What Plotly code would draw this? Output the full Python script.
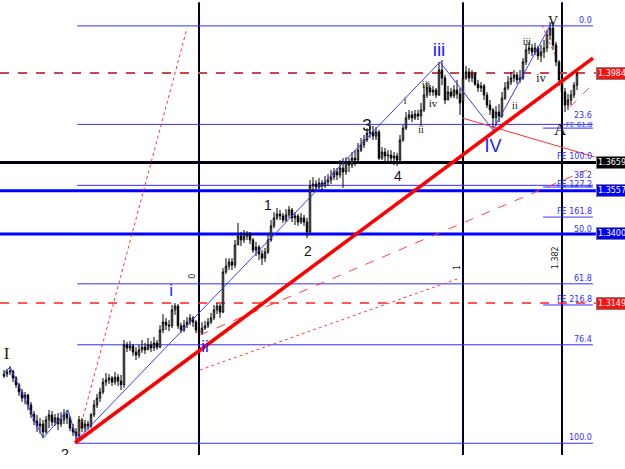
import plotly.graph_objects as go

# ---------------- candle data (bar index, OHLC prices) ----------------
opens = [
    1.2884, 1.2891, 1.2899, 1.2902, 1.2877, 1.2852, 1.2826, 1.2804, 1.2815, 1.2779,
    1.2746, 1.2721, 1.2703, 1.2710, 1.2681, 1.2725, 1.2743, 1.2717, 1.2732, 1.2710,
    1.2725, 1.2746, 1.2732, 1.2695, 1.2681, 1.2667, 1.2725, 1.2695, 1.2710, 1.2703,
    1.2743, 1.2779, 1.2804, 1.2826, 1.2862, 1.2870, 1.2877, 1.2862, 1.2880, 1.2866,
    1.2852, 1.2997, 1.2986, 1.2993, 1.2971, 1.2960, 1.2979, 1.2989, 1.2979, 1.2997,
    1.2986, 1.3004, 1.2989, 1.3051, 1.3080, 1.3069, 1.3066, 1.3124, 1.3138, 1.3066,
    1.3051, 1.3069, 1.3080, 1.3095, 1.3080, 1.3051, 1.3040, 1.3058, 1.3066, 1.3080,
    1.3095, 1.3124, 1.3138, 1.3116, 1.3262, 1.3283, 1.3298, 1.3287, 1.3360, 1.3392,
    1.3378, 1.3392, 1.3400, 1.3378, 1.3341, 1.3352, 1.3327, 1.3312, 1.3334, 1.3378,
    1.3429, 1.3458, 1.3472, 1.3465, 1.3450, 1.3469, 1.3487, 1.3458, 1.3465, 1.3443,
    1.3458, 1.3443, 1.3407, 1.3574, 1.3581, 1.3570, 1.3585, 1.3574, 1.3588, 1.3595,
    1.3606, 1.3625, 1.3614, 1.3639, 1.3625, 1.3661, 1.3650, 1.3675, 1.3668, 1.3704,
    1.3723, 1.3741, 1.3766, 1.3770, 1.3755, 1.3770, 1.3675, 1.3697, 1.3683, 1.3686,
    1.3675, 1.3683, 1.3668, 1.3741, 1.3784, 1.3821, 1.3832, 1.3821, 1.3835, 1.3828,
    1.3850, 1.3904, 1.3930, 1.3915, 1.3922, 1.3904, 1.3995, 1.3966, 1.3886, 1.3915,
    1.3901, 1.3922, 1.3908, 1.3882, 1.3966, 1.3988, 1.3966, 1.3980, 1.3944, 1.3930,
    1.3937, 1.3904, 1.3868, 1.3850, 1.3821, 1.3842, 1.3828, 1.3893, 1.3930, 1.3951,
    1.3966, 1.3977, 1.3959, 1.3966, 1.4024, 1.4068, 1.4075, 1.4060, 1.4075, 1.4046,
    1.4060, 1.4075, 1.4122, 1.4147, 1.4086, 1.4024, 1.3959, 1.3915, 1.3868, 1.3886,
    1.3904, 1.3940,
]
highs = [
    1.2906, 1.2910, 1.2920, 1.2906, 1.2884, 1.2859, 1.2837, 1.2826, 1.2819, 1.2790,
    1.2757, 1.2743, 1.2732, 1.2725, 1.2739, 1.2761, 1.2757, 1.2746, 1.2750, 1.2753,
    1.2764, 1.2761, 1.2739, 1.2710, 1.2695, 1.2739, 1.2732, 1.2725, 1.2721, 1.2750,
    1.2797, 1.2819, 1.2841, 1.2877, 1.2895, 1.2891, 1.2884, 1.2899, 1.2891, 1.2888,
    1.3015, 1.3008, 1.3011, 1.3000, 1.2989, 1.2997, 1.3015, 1.3004, 1.3022, 1.3011,
    1.3026, 1.3015, 1.3069, 1.3109, 1.3095, 1.3087, 1.3142, 1.3149, 1.3145, 1.3077,
    1.3087, 1.3098, 1.3109, 1.3102, 1.3087, 1.3069, 1.3080, 1.3084, 1.3095, 1.3113,
    1.3142, 1.3149, 1.3145, 1.3276, 1.3312, 1.3312, 1.3312, 1.3378, 1.3440, 1.3407,
    1.3414, 1.3410, 1.3407, 1.3385, 1.3371, 1.3360, 1.3341, 1.3349, 1.3396, 1.3450,
    1.3479, 1.3494, 1.3487, 1.3476, 1.3490, 1.3501, 1.3494, 1.3479, 1.3472, 1.3476,
    1.3469, 1.3458, 1.3595, 1.3606, 1.3595, 1.3603, 1.3595, 1.3610, 1.3617, 1.3632,
    1.3639, 1.3639, 1.3668, 1.3675, 1.3679, 1.3675, 1.3697, 1.3704, 1.3730, 1.3748,
    1.3759, 1.3784, 1.3795, 1.3792, 1.3788, 1.3777, 1.3715, 1.3712, 1.3704, 1.3704,
    1.3697, 1.3694, 1.3759, 1.3795, 1.3842, 1.3850, 1.3846, 1.3850, 1.3850, 1.3875,
    1.3940, 1.3951, 1.3940, 1.3937, 1.3930, 1.4024, 1.4031, 1.3977, 1.3937, 1.3930,
    1.3940, 1.3959, 1.3930, 1.3995, 1.4009, 1.4002, 1.3995, 1.3988, 1.3959, 1.3951,
    1.3944, 1.3915, 1.3886, 1.3857, 1.3864, 1.3871, 1.3915, 1.3951, 1.3973, 1.3988,
    1.3995, 1.3988, 1.3995, 1.4038, 1.4089, 1.4097, 1.4089, 1.4093, 1.4082, 1.4086,
    1.4104, 1.4140, 1.4169, 1.4169, 1.4097, 1.4031, 1.3966, 1.3930, 1.3908, 1.3922,
    1.3951, 1.3988,
]
lows = [
    1.2877, 1.2880, 1.2888, 1.2862, 1.2841, 1.2812, 1.2790, 1.2782, 1.2761, 1.2732,
    1.2706, 1.2681, 1.2675, 1.2659, 1.2675, 1.2695, 1.2703, 1.2703, 1.2688, 1.2699,
    1.2710, 1.2710, 1.2684, 1.2667, 1.2648, 1.2659, 1.2681, 1.2681, 1.2688, 1.2695,
    1.2735, 1.2768, 1.2790, 1.2819, 1.2848, 1.2855, 1.2848, 1.2852, 1.2848, 1.2833,
    1.2841, 1.2971, 1.2975, 1.2957, 1.2942, 1.2949, 1.2968, 1.2964, 1.2979, 1.2971,
    1.2975, 1.2979, 1.2986, 1.3040, 1.3051, 1.3047, 1.3058, 1.3106, 1.3055, 1.3040,
    1.3044, 1.3058, 1.3069, 1.3062, 1.3040, 1.3026, 1.3033, 1.3051, 1.3058, 1.3073,
    1.3087, 1.3109, 1.3095, 1.3113, 1.3254, 1.3269, 1.3269, 1.3276, 1.3360, 1.3356,
    1.3367, 1.3378, 1.3363, 1.3331, 1.3320, 1.3305, 1.3287, 1.3298, 1.3327, 1.3371,
    1.3421, 1.3450, 1.3450, 1.3440, 1.3443, 1.3458, 1.3443, 1.3432, 1.3429, 1.3436,
    1.3429, 1.3385, 1.3400, 1.3552, 1.3559, 1.3563, 1.3559, 1.3567, 1.3574, 1.3581,
    1.3595, 1.3595, 1.3603, 1.3567, 1.3614, 1.3625, 1.3639, 1.3646, 1.3661, 1.3697,
    1.3712, 1.3734, 1.3748, 1.3741, 1.3741, 1.3668, 1.3668, 1.3661, 1.3661, 1.3657,
    1.3650, 1.3646, 1.3661, 1.3734, 1.3777, 1.3813, 1.3806, 1.3813, 1.3813, 1.3792,
    1.3842, 1.3893, 1.3901, 1.3901, 1.3893, 1.3901, 1.3940, 1.3871, 1.3886, 1.3893,
    1.3893, 1.3890, 1.3832, 1.3875, 1.3959, 1.3951, 1.3951, 1.3937, 1.3915, 1.3915,
    1.3886, 1.3857, 1.3832, 1.3784, 1.3792, 1.3806, 1.3821, 1.3886, 1.3922, 1.3940,
    1.3951, 1.3944, 1.3948, 1.3959, 1.4013, 1.4053, 1.4046, 1.4049, 1.4031, 1.4024,
    1.4038, 1.4060, 1.4104, 1.4068, 1.4009, 1.3937, 1.3901, 1.3842, 1.3850, 1.3868,
    1.3893, 1.3922,
]
closes = [
    1.2891, 1.2899, 1.2902, 1.2877, 1.2852, 1.2826, 1.2804, 1.2815, 1.2779, 1.2746,
    1.2721, 1.2703, 1.2710, 1.2681, 1.2725, 1.2743, 1.2717, 1.2732, 1.2710, 1.2725,
    1.2746, 1.2732, 1.2695, 1.2681, 1.2667, 1.2725, 1.2695, 1.2710, 1.2703, 1.2743,
    1.2779, 1.2804, 1.2826, 1.2862, 1.2870, 1.2877, 1.2862, 1.2880, 1.2866, 1.2852,
    1.2997, 1.2986, 1.2993, 1.2971, 1.2960, 1.2979, 1.2989, 1.2979, 1.2997, 1.2986,
    1.3004, 1.2989, 1.3051, 1.3080, 1.3069, 1.3066, 1.3124, 1.3138, 1.3066, 1.3051,
    1.3069, 1.3080, 1.3095, 1.3080, 1.3051, 1.3040, 1.3058, 1.3066, 1.3080, 1.3095,
    1.3124, 1.3138, 1.3116, 1.3262, 1.3283, 1.3298, 1.3287, 1.3360, 1.3392, 1.3378,
    1.3392, 1.3400, 1.3378, 1.3341, 1.3352, 1.3327, 1.3312, 1.3334, 1.3378, 1.3429,
    1.3458, 1.3472, 1.3465, 1.3450, 1.3469, 1.3487, 1.3458, 1.3465, 1.3443, 1.3458,
    1.3443, 1.3407, 1.3574, 1.3581, 1.3570, 1.3585, 1.3574, 1.3588, 1.3595, 1.3606,
    1.3625, 1.3614, 1.3639, 1.3625, 1.3661, 1.3650, 1.3675, 1.3668, 1.3704, 1.3723,
    1.3741, 1.3766, 1.3770, 1.3755, 1.3770, 1.3675, 1.3697, 1.3683, 1.3686, 1.3675,
    1.3683, 1.3668, 1.3741, 1.3784, 1.3821, 1.3832, 1.3821, 1.3835, 1.3828, 1.3850,
    1.3904, 1.3930, 1.3915, 1.3922, 1.3904, 1.3995, 1.3966, 1.3886, 1.3915, 1.3901,
    1.3922, 1.3908, 1.3875, 1.3966, 1.3988, 1.3966, 1.3980, 1.3944, 1.3930, 1.3937,
    1.3904, 1.3868, 1.3850, 1.3821, 1.3842, 1.3828, 1.3893, 1.3930, 1.3951, 1.3966,
    1.3977, 1.3959, 1.3966, 1.4024, 1.4068, 1.4075, 1.4060, 1.4075, 1.4046, 1.4060,
    1.4075, 1.4122, 1.4147, 1.4086, 1.4024, 1.3959, 1.3915, 1.3868, 1.3886, 1.3904,
    1.3940, 1.3980,
]
bars = list(range(len(closes)))

# ---------------- horizontal price lines with right-side tags ----------------
tag_prices = [1.3984, 1.3659, 1.3557, 1.3400, 1.3149]
tag_texts = ["1.3984", "1.3659", "1.3557", "1.3400", "1.3149"]
tag_colors = ["#ff1010", "#000000", "#0000ff", "#0000ff", "#ff1010"]
line_colors = ["#c84848", "#000010", "#0000ff", "#0000ff", "#ff2020"]
line_widths = [2, 3, 3, 3, 1.5]
line_dashes = ["dash", "solid", "solid", "solid", "dash"]

# ---------------- Fibonacci retracement ----------------
fib_high = 1.4155
fib_low = 1.2640
fib_ratios = [0.0, 23.6, 38.2, 50.0, 61.8, 76.4, 100.0]
fib_label_shift = [0, 3, 4, 0, 0, 0, 0]
fib_bar_start = 24.4
fib_bar_end = 196.3

# ---------------- Fibonacci expansion short lines ----------------
fe_texts = ["FE 61.8", "FE 100.0", "FE 127.2", "FE 161.8", "FE 216.8"]
fe_prices = [1.3784, 1.3661, 1.3570, 1.3461, 1.3142]
fe_label_shift = [-2, 0, -3, 0, 0]
fe_label_size = [7, 8, 8, 8, 8]
fe_bar_start = 179.7
fe_bar_end = 196.3

# ---------------- vertical time lines ----------------
vline_bars = [65, 153, 186]

# ---------------- trend / channel lines ----------------
trend_main_x = [23.67, 196.33]
trend_main_y = [1.2641, 1.4038]
fan_steep_x = [24.33, 61.0]
fan_steep_y = [1.2652, 1.4147]
fan_dash_x = [65.33, 194.33]
fan_dash_y = [1.3033, 1.3632]
fan_dot_x = [65.33, 152.0]
fan_dot_y = [1.2906, 1.3240]
iv_line_x = [152.67, 197.0]
iv_line_y = [1.3821, 1.3679]
v_dot_x = [179.3, 183.67]
v_dot_y = [1.4158, 1.4049]
a_dash_x = [188.67, 196.0]
a_dash_y = [1.3861, 1.3940]

# blue wave zigzag
wave_x = [0, 2, 13, 21.33, 24.33, 145.33, 163, 182.67]
wave_y = [1.2895, 1.2917, 1.2659, 1.2761, 1.2652, 1.4024, 1.3777, 1.4169]

# ---------------- wave labels ----------------
lab_text = ["I", "2", "i", "ii", "1", "2", "3", "4", "i", "iii", "iv", "ii",
            "iii", "IV", "ii", "iii", "iv", "V", "A"]
lab_x = [0.9, 20.3, 55.7, 67.0, 88.0, 101.3, 121.0, 131.3, 133.7, 140.7, 143.0, 139.0,
         145.0, 163.0, 170.3, 174.3, 179.0, 183.0, 185.4]
lab_y = [1.2960, 1.2596, 1.3189, 1.2986, 1.3498, 1.3334, 1.3788, 1.3603, 1.3879, 1.3937,
         1.3871, 1.3777, 1.4062, 1.3715, 1.3861, 1.4093, 1.3962, 1.4169, 1.3774]
lab_color = ["#222200", "#111111", "#1a1aff", "#1a1aff", "#111111", "#111111", "#111111",
             "#111111", "#111111", "#111111", "#111111", "#111111", "#1a1aff", "#1a1aff",
             "#111111", "#111111", "#111111", "#111111", "#111111"]
lab_size = [17, 15, 17, 17, 14, 14, 17, 14, 10, 10, 11, 10, 19, 18, 10, 10, 12, 14, 17]
lab_font = ["Liberation Serif", "Liberation Sans", "Liberation Sans", "Liberation Sans",
            "Liberation Sans", "Liberation Sans", "Liberation Sans", "Liberation Sans",
            "Liberation Serif", "Liberation Serif", "Liberation Serif", "Liberation Serif",
            "Liberation Sans", "Liberation Sans", "Liberation Serif", "Liberation Serif",
            "Liberation Serif", "Liberation Serif", "Liberation Serif"]

# rotated small labels
rot_text = ["0", "1", "1.382"]
rot_x = [63.0, 151.0, 183.7]
rot_y = [1.3244, 1.3276, 1.3312]

# axis window (price / bar)
x_range = [-1.333, 207.0]
y_range = [1.25974, 1.4249]

fig = go.Figure()

fig.add_trace(go.Candlestick(
    x=bars, open=opens, high=highs, low=lows, close=closes,
    increasing=dict(line=dict(color="#000000", width=1), fillcolor="#ffffff"),
    decreasing=dict(line=dict(color="#000000", width=1), fillcolor="#000000"),
    whiskerwidth=0, hoverinfo="skip", showlegend=False,
))

def add_line(xs, ys, color, width, dash="solid"):
    fig.add_trace(go.Scatter(x=xs, y=ys, mode="lines",
                             line=dict(color=color, width=width, dash=dash),
                             hoverinfo="skip", showlegend=False))

add_line(wave_x, wave_y, "#3a3aff", 1)
add_line(fan_steep_x, fan_steep_y, "#ff3030", 1, "dot")
add_line(fan_dash_x, fan_dash_y, "#ff4040", 1, "dash")
add_line(fan_dot_x, fan_dot_y, "#ff4040", 1, "dot")
add_line(iv_line_x, iv_line_y, "#ff3030", 1)
add_line(v_dot_x, v_dot_y, "#ff3030", 1, "dot")
add_line(a_dash_x, a_dash_y, "#ff5050", 1, "dash")
add_line(trend_main_x, trend_main_y, "#ff0000", 3.5)

fig.add_trace(go.Scatter(
    x=lab_x, y=lab_y, text=lab_text, mode="text",
    textfont=dict(color=lab_color, size=lab_size, family=lab_font),
    hoverinfo="skip", showlegend=False, cliponaxis=True,
))

shapes = []
fib_levels = [fib_high - r / 100.0 * (fib_high - fib_low) for r in fib_ratios]
for lv in fib_levels:
    shapes.append(dict(type="line", xref="x", yref="y", x0=fib_bar_start, x1=fib_bar_end,
                       y0=lv, y1=lv, line=dict(color="#3030ff", width=1), layer="below"))
for pv in fe_prices:
    shapes.append(dict(type="line", xref="x", yref="y", x0=fe_bar_start, x1=fe_bar_end,
                       y0=pv, y1=pv, line=dict(color="#3030ff", width=1), layer="below"))
for pv, c, w, d in zip(tag_prices, line_colors, line_widths, line_dashes):
    shapes.append(dict(type="line", xref="x", yref="y", x0=x_range[0], x1=197.3,
                       y0=pv, y1=pv, line=dict(color=c, width=w, dash=d), layer="below"))
for vb in vline_bars:
    shapes.append(dict(type="line", xref="x", yref="y domain", x0=vb, x1=vb, y0=0, y1=0.995,
                       line=dict(color="#000020", width=2), layer="below"))

annotations = []
for r, lv, sh in zip(fib_ratios, fib_levels, fib_label_shift):
    annotations.append(dict(x=fib_bar_end, y=lv, xref="x", yref="y", text=f"{r:.1f}",
                            showarrow=False, xanchor="right", yanchor="bottom", yshift=sh,
                            font=dict(size=8, color="#3030ff", family="DejaVu Sans"),
                            borderpad=0))
for t, pv, sh, fs in zip(fe_texts, fe_prices, fe_label_shift, fe_label_size):
    annotations.append(dict(x=fe_bar_end, y=pv, xref="x", yref="y", text=t,
                            showarrow=False, xanchor="right", yanchor="bottom", yshift=sh,
                            font=dict(size=fs, color="#3030ff", family="DejaVu Sans"),
                            borderpad=0))
for t, pv, c in zip(tag_texts, tag_prices, tag_colors):
    annotations.append(dict(x=197.4, y=pv, xref="x", yref="y", text=t, showarrow=False,
                            xanchor="left", yanchor="middle", bgcolor=c,
                            bordercolor="#808080", borderwidth=1, borderpad=1,
                            font=dict(size=8, color="#ffffff", family="DejaVu Sans")))
for t, xv, yv in zip(rot_text, rot_x, rot_y):
    annotations.append(dict(x=xv, y=yv, xref="x", yref="y", text=t, showarrow=False,
                            textangle=-90, font=dict(size=8, color="#222222",
                                                     family="DejaVu Sans")))

fig.update_layout(
    width=625, height=469,
    margin=dict(l=0, r=0, t=0, b=14),
    paper_bgcolor="#ffffff", plot_bgcolor="#ffffff",
    shapes=shapes, annotations=annotations,
    showlegend=False,
    xaxis=dict(range=x_range, visible=False, rangeslider=dict(visible=False),
               fixedrange=True),
    yaxis=dict(range=y_range, visible=False, fixedrange=True),
)

fig.write_html("out.html")
